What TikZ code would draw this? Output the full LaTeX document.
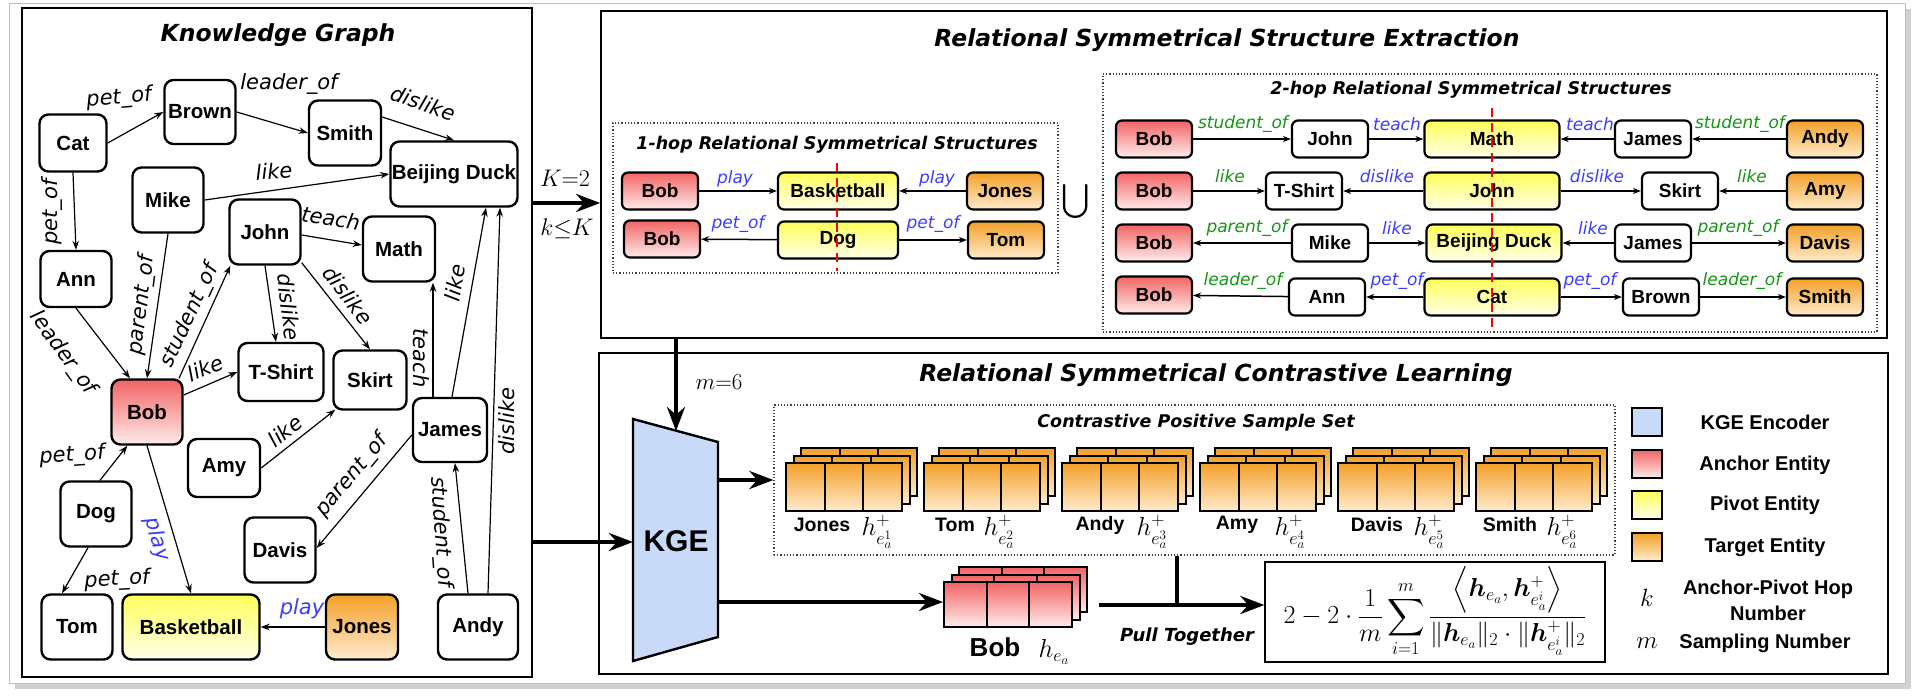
\RequirePackage{fix-cm}
\documentclass[tikz,border=0pt]{standalone}
\usepackage{amsmath,amssymb}
\usepackage{bm}
\usepackage{fontspec}
\usetikzlibrary{arrows.meta,calc}
\newfontfamily\nodefont{Liberation Sans}
\newfontfamily\lblfont{DejaVu Sans}
\definecolor{ancTop}{RGB}{242,100,100}
\definecolor{ancBot}{RGB}{255,235,235}
\definecolor{pivTop}{RGB}{255,255,90}
\definecolor{pivBot}{RGB}{255,255,235}
\definecolor{tgtTop}{RGB}{243,160,40}
\definecolor{tgtBot}{RGB}{255,235,205}
\definecolor{kgeBlue}{RGB}{201,218,248}
\definecolor{relBlue}{RGB}{60,60,255}
\definecolor{relGreen}{RGB}{20,150,20}
\newcommand{\cstack}[6]{%
  \foreach \o in {15,7.5,0}{%
    \draw[line width=2pt, top color=#3, bottom color=#4] (#1+\o, #2-\o) rectangle ++(3*#5, #6);
    \draw[line width=2pt] (#1+\o+#5, #2-\o) -- ++(0,#6) (#1+\o+2*#5, #2-\o) -- ++(0,#6);
  }}
\begin{document}
\begin{tikzpicture}[x=1pt,y=-1pt,
  ent/.style={draw, line width=2.4pt, rounded corners=9pt, inner sep=0pt,
    font=\nodefont\bfseries\fontsize{20.5}{24}\selectfont, minimum width=71pt, minimum height=65pt},
  sent/.style={draw, line width=2.2pt, rounded corners=6pt, inner sep=0pt,
    font=\nodefont\bfseries\fontsize{19}{22}\selectfont, minimum width=76pt, minimum height=37pt},
  anc/.style={top color=ancTop, bottom color=ancBot},
  piv/.style={top color=pivTop, bottom color=pivBot},
  tgt/.style={top color=tgtTop, bottom color=tgtBot},
  panel/.style={draw, line width=1.6pt, inner sep=0pt},
  dotbox/.style={draw=black!75, dotted, line width=1.2pt, inner sep=0pt},
  ttl/.style={font=\lblfont\bfseries\itshape\fontsize{23.5}{28}\selectfont, inner sep=0pt},
  sttl/.style={font=\lblfont\bfseries\itshape\fontsize{17.5}{21}\selectfont, inner sep=0pt},
  lbl/.style={font=\lblfont\itshape\fontsize{21}{24}\selectfont, inner sep=0pt},
  slbl/.style={font=\lblfont\itshape\fontsize{17}{20}\selectfont, inner sep=0pt},
  kgarr/.style={line width=1.2pt, -{Stealth[length=9pt,width=6.5pt]}},
  sarr/.style={line width=1.5pt, -{Stealth[length=8pt,width=6pt]}},
  bigarr/.style={line width=4pt, -{Stealth[length=24pt,width=18pt]}},
  legsq/.style={draw, line width=2.4pt, minimum width=30pt, minimum height=28pt, inner sep=0pt},
  legtxt/.style={font=\nodefont\bfseries\fontsize{20}{26}\selectfont, inner sep=0pt, align=center},
  stxt/.style={font=\nodefont\bfseries\fontsize{19.5}{22}\selectfont, inner sep=0pt},
  mth/.style={font=\fontsize{26}{30}\selectfont, inner sep=0pt}
]
\useasboundingbox (0,0) rectangle (1923,697);
% outer frame with shadow
\fill[black!18] (15,9) rectangle (1911,689);
\draw[black!25, line width=0.8pt, fill=white] (9,3) rectangle (1905,683);

% ================= Knowledge Graph panel =================
\node[panel, minimum width=510pt, minimum height=669pt] (kg) at (277,342.5) {};
\node[ttl] (kgt) at (278,35) {Knowledge Graph};

\node[ent, minimum width=67pt, minimum height=57pt] (cat) at (73,143) {Cat};
\node[ent, minimum height=64pt] (brown) at (200,112) {Brown};
\node[ent, minimum width=72pt] (smith) at (345,133) {Smith};
\node[ent, minimum width=127pt] (bd) at (454,174) {Beijing Duck};
\node[ent] (mike) at (168,200) {Mike};
\node[ent] (john) at (265,232) {John};
\node[ent, minimum width=72pt] (math) at (399,249) {Math};
\node[ent, minimum height=56pt] (ann) at (76,279) {Ann};
\node[ent, minimum width=85pt, minimum height=58pt] (tshirt) at (281,372) {T-Shirt};
\node[ent, minimum width=73pt, minimum height=59pt] (skirt) at (370,380) {Skirt};
\node[ent, anc] (bob) at (147,412) {Bob};
\node[ent, minimum width=72pt, minimum height=58pt] (amy) at (224,468) {Amy};
\node[ent, minimum width=74pt, minimum height=64pt] (james) at (450,430) {James};
\node[ent] (dog) at (96,514) {Dog};
\node[ent] (davis) at (280,550) {Davis};
\node[ent] (tom) at (77,627) {Tom};
\node[ent, piv, minimum width=137pt] (bask) at (191,627) {Basketball};
\node[ent, tgt, minimum width=72pt] (jones) at (362,627) {Jones};
\node[ent, minimum width=80pt] (andy) at (478,627) {Andy};

\draw[kgarr] (cat.east) -- (brown.west);
\node[lbl, rotate=5] (l1) at (119,98) {pet\_of};
\draw[kgarr] (brown.east) -- (smith.west);
\node[lbl] (l2) at (289,84) {leader\_of};
\draw[kgarr] ($(smith.east)+(0,-16)$) -- (bd.north);
\node[lbl, rotate=-19] (l3) at (423,103) {dislike};
\draw[kgarr] (mike.east) -- (bd.west);
\node[lbl, rotate=4] (l4) at (274,171) {like};
\draw[kgarr] (cat.south) -- (ann.north);
\node[lbl, rotate=90] (l5) at (52,212) {pet\_of};
\draw[kgarr] (ann.south) -- ($(bob.north)+(-17,0)$);
\node[lbl, rotate=-54] (l6) at (63,353) {leader\_of};
\draw[kgarr] (mike.south) -- (bob.north);
\node[lbl, rotate=83] (l7) at (142,305) {parent\_of};
\draw[kgarr] ($(bob.north)+(32,0)$) -- ($(john.south west)+(2,0)$);
\node[lbl, rotate=65] (l8) at (190,316) {student\_of};
\draw[kgarr] ($(bob.east)+(0,-17)$) -- (tshirt.west);
\node[lbl, rotate=22] (l9) at (205,368) {like};
\draw[kgarr] ($(john.east)+(0,3)$) -- ($(math.west)+(0,-4)$);
\node[lbl, rotate=-9] (l10) at (331,218) {teach};
\draw[kgarr] (john.south) -- ($(tshirt.north)+(-5,0)$);
\node[lbl, rotate=-83] (l11) at (289,307) {dislike};
\draw[kgarr] ($(john.south east)+(0,-3)$) -- (skirt.north);
\node[lbl, rotate=-53] (l12) at (348,295) {dislike};
\draw[kgarr] ($(james.north)+(-17,0)$) -- ($(math.south)+(34,0)$);
\node[lbl, rotate=-90] (l13) at (421,358) {teach};
\draw[kgarr] ($(james.north)+(2,0)$) -- ($(bd.south)+(32,0)$);
\node[lbl, rotate=80] (l14) at (455,283) {like};
\draw[kgarr] ($(andy.north)+(10,0)$) -- ($(bd.south)+(46,0)$);
\node[lbl, rotate=90] (l15) at (507,421) {dislike};
\draw[kgarr] ($(andy.north)+(-10,0)$) -- ($(james.south)+(5,0)$);
\node[lbl, rotate=-86] (l16) at (441,532) {student\_of};
\draw[kgarr] (amy.east) -- ($(skirt.south west)+(3,-1)$);
\node[lbl, rotate=39] (l17) at (285,431) {like};
\draw[kgarr] ($(james.west)+(0,5)$) -- ($(davis.east)+(0,-2)$);
\node[lbl, rotate=50] (l18) at (352,476) {parent\_of};
\draw[kgarr] ($(dog.north)+(4,0)$) -- ($(bob.south west)+(17,0)$);
\node[lbl, rotate=4] (l19) at (72,456) {pet\_of};
\draw[kgarr] ($(dog.south)+(-8,0)$) -- ($(tom.north)+(-15,0)$);
\node[lbl, rotate=3] (l20) at (117,580) {pet\_of};
\draw[kgarr] (bob.south) -- (bask.north);
\node[lbl, relBlue, rotate=-74] (l21) at (157,539) {play};
\draw[kgarr] (jones.west) -- (bask.east);
\node[lbl, relBlue] (l22) at (302,609) {play};

% ================= Extraction panel =================
\node[panel, minimum width=1286pt, minimum height=327pt] (ext) at (1244,174.5) {};
\node[ttl] (extt) at (1227,40) {Relational Symmetrical Structure Extraction};

% 1-hop
\node[dotbox, minimum width=445pt, minimum height=150pt] (hop1) at (835.5,198) {};
\node[sttl] (hop1t) at (837,145) {1-hop Relational Symmetrical Structures};
\node[sent, anc] (a1) at (660,191) {Bob};
\node[sent, piv, minimum width=120pt] (p1) at (838,191) {Basketball};
\node[sent, tgt] (t1) at (1005,191) {Jones};
\node[sent, anc] (a2) at (662,239) {Bob};
\node[sent, piv, minimum width=120pt] (p2) at (838,240) {Dog};
\node[sent, tgt] (t2) at (1006,240) {Tom};
\draw[sarr] (a1) -- (p1);
\draw[sarr] (t1) -- (p1);
\draw[sarr] (p2) -- (a2);
\draw[sarr] (p2) -- (t2);
\node[slbl, relBlue] (o1) at (735,179) {play};
\node[slbl, relBlue] (o2) at (937,179) {play};
\node[slbl, relBlue] (o3) at (738,224) {pet\_of};
\node[slbl, relBlue] (o4) at (933,224) {pet\_of};
\draw[red, line width=2.6pt, dash pattern=on 9pt off 6pt] (837,163) -- (837,271);

\node[font=\fontsize{34}{34}\selectfont, inner sep=0pt] (uni) at (1076,201) {$\textstyle\bigcup$};

% 2-hop
\node[dotbox, minimum width=774pt, minimum height=258pt] (hop2) at (1490,203) {};
\node[sttl] (hop2t) at (1471,90) {2-hop Relational Symmetrical Structures};

% row 1
\node[sent, anc] (r1a) at (1154,139) {Bob};
\node[sent] (r1b) at (1330,139) {John};
\node[sent, piv, minimum width=135pt] (r1c) at (1492,139) {Math};
\node[sent] (r1d) at (1653,139) {James};
\node[sent, tgt] (r1e) at (1825,139) {Andy};
\draw[sarr] (r1a) -- (r1b);
\draw[sarr] (r1b) -- (r1c);
\draw[sarr] (r1d) -- (r1c);
\draw[sarr] (r1e) -- (r1d);
\node[slbl, relGreen] (q1) at (1243,124) {student\_of};
\node[slbl, relBlue] (q2) at (1397,124) {teach};
\node[slbl, relBlue] (q3) at (1590,124) {teach};
\node[slbl, relGreen] (q4) at (1740,124) {student\_of};
% row 2
\node[sent, anc] (r2a) at (1154,191) {Bob};
\node[sent] (r2b) at (1304,191) {T-Shirt};
\node[sent, piv, minimum width=135pt] (r2c) at (1492,191) {John};
\node[sent] (r2d) at (1680,191) {Skirt};
\node[sent, tgt] (r2e) at (1825,191) {Amy};
\draw[sarr] (r2a) -- (r2b);
\draw[sarr] (r2c) -- (r2b);
\draw[sarr] (r2c) -- (r2d);
\draw[sarr] (r2e) -- (r2d);
\node[slbl, relGreen] (q5) at (1230,176) {like};
\node[slbl, relBlue] (q6) at (1387,176) {dislike};
\node[slbl, relBlue] (q7) at (1597,176) {dislike};
\node[slbl, relGreen] (q8) at (1752,176) {like};
% row 3
\node[sent, anc] (r3a) at (1154,243) {Bob};
\node[sent] (r3b) at (1330,243) {Mike};
\node[sent, piv, minimum width=135pt] (r3c) at (1494,243) {Beijing Duck};
\node[sent] (r3d) at (1653,243) {James};
\node[sent, tgt] (r3e) at (1825,243) {Davis};
\draw[sarr] (r3b) -- (r3a);
\draw[sarr] (r3b) -- (r3c);
\draw[sarr] (r3d) -- (r3c);
\draw[sarr] (r3d) -- (r3e);
\node[slbl, relGreen] (q9) at (1247,228) {parent\_of};
\node[slbl, relBlue] (q10) at (1397,228) {like};
\node[slbl, relBlue] (q11) at (1593,228) {like};
\node[slbl, relGreen] (q12) at (1738,228) {parent\_of};
% row 4
\node[sent, anc] (r4a) at (1154,295) {Bob};
\node[sent] (r4b) at (1327,297) {Ann};
\node[sent, piv, minimum width=135pt] (r4c) at (1492,297) {Cat};
\node[sent] (r4d) at (1661,297) {Brown};
\node[sent, tgt] (r4e) at (1825,297) {Smith};
\draw[sarr] (r4b) -- (r4a);
\draw[sarr] (r4c) -- (r4b);
\draw[sarr] (r4c) -- (r4d);
\draw[sarr] (r4d) -- (r4e);
\node[slbl, relGreen] (q13) at (1243,281) {leader\_of};
\node[slbl, relBlue] (q14) at (1397,281) {pet\_of};
\node[slbl, relBlue] (q15) at (1590,281) {pet\_of};
\node[slbl, relGreen] (q16) at (1742,281) {leader\_of};
\draw[red, line width=2.6pt, dash pattern=on 9pt off 6pt] (1492,108) -- (1492,330);

% ================= Contrastive panel =================
\node[panel, minimum width=1289pt, minimum height=321pt] (cl) at (1243.5,513.5) {};
\node[ttl] (clt) at (1216,375) {Relational Symmetrical Contrastive Learning};

% KGE encoder
\draw[line width=2.4pt, fill=kgeBlue] (633,419) -- (718,442) -- (718,637) -- (633,661) -- cycle;
\node[font=\nodefont\bfseries\fontsize{30}{36}\selectfont, inner sep=0pt] (kge) at (676,541) {KGE};
\coordinate (kgeTop) at (676,431);
\coordinate (kgeIn) at (633,542);
\coordinate (kgeOutA) at (718,480);
\coordinate (kgeOutB) at (718,602);

% sample set
\node[dotbox, minimum width=841pt, minimum height=150pt] (pset) at (1194.5,480) {};
\node[sttl] (psett) at (1196,423) {Contrastive Positive Sample Set};
\cstack{786}{463}{tgtTop}{tgtBot}{38.7}{48}
\cstack{924}{463}{tgtTop}{tgtBot}{38.7}{48}
\cstack{1062}{463}{tgtTop}{tgtBot}{38.7}{48}
\cstack{1200}{463}{tgtTop}{tgtBot}{38.7}{48}
\cstack{1338}{463}{tgtTop}{tgtBot}{38.7}{48}
\cstack{1476}{463}{tgtTop}{tgtBot}{38.7}{48}
\node[stxt] (n1) at (822,525) {Jones};
\node[mth] (h1) at (877,532) {$h^{+}_{e_a^{1}}$};
\node[stxt] (n2) at (955,525) {Tom};
\node[mth] (h2) at (999,532) {$h^{+}_{e_a^{2}}$};
\node[stxt] (n3) at (1100,525) {Andy};
\node[mth] (h3) at (1152,532) {$h^{+}_{e_a^{3}}$};
\node[stxt] (n4) at (1237,525) {Amy};
\node[mth] (h4) at (1290,532) {$h^{+}_{e_a^{4}}$};
\node[stxt] (n5) at (1377,525) {Davis};
\node[mth] (h5) at (1429,532) {$h^{+}_{e_a^{5}}$};
\node[stxt] (n6) at (1510,525) {Smith};
\node[mth] (h6) at (1562,532) {$h^{+}_{e_a^{6}}$};

% anchor stack
\cstack{944}{582}{ancTop}{ancBot}{42.7}{45}
\coordinate (bobIn) at (943,602);
\coordinate (bobOut) at (1099,605);
\node[font=\nodefont\bfseries\fontsize{26}{30}\selectfont, inner sep=0pt] (bobn) at (995,647) {Bob};
\node[mth] (bobh) at (1054,652) {$h_{e_a}$};

% formula
\node[draw, line width=1.2pt, minimum width=340pt, minimum height=100pt, inner sep=0pt] (formula) at (1435,612)
  {\fontsize{26}{30}\selectfont$\displaystyle 2-2\cdot\frac{1}{m}\sum_{i=1}^{m}\frac{\left\langle \bm{h}_{e_a},\bm{h}^{+}_{e_a^{i}}\right\rangle}{\|\bm{h}_{e_a}\|_2\cdot\|\bm{h}^{+}_{e_a^{i}}\|_2}$};
\draw[bigarr] (bobOut) -- (formula.west |- bobOut);
\draw[line width=4pt] (pset.south -| 1177,0) -- (1177,605);
\node[font=\lblfont\bfseries\itshape\fontsize{18}{21}\selectfont, inner sep=0pt] (pull) at (1187,637) {Pull Together};

% legend
\node[legsq, fill=kgeBlue] (lg1) at (1647,422) {};
\node[legsq, anc] (lg2) at (1647,464) {};
\node[legsq, piv] (lg3) at (1647,505) {};
\node[legsq, tgt] (lg4) at (1647,547) {};
\node[legtxt] (lt1) at (1765,422) {KGE Encoder};
\node[legtxt] (lt2) at (1765,465) {Anchor Entity};
\node[legtxt] (lt3) at (1765,505) {Pivot Entity};
\node[legtxt] (lt4) at (1765,547) {Target Entity};
\node[legtxt] (lt5) at (1768,600) {Anchor-Pivot Hop\\Number};
\node[legtxt] (lt6) at (1765,643) {Sampling Number};
\node[mth, font=\fontsize{25}{28}\selectfont] (lk) at (1647,598) {$k$};
\node[mth, font=\fontsize{25}{28}\selectfont] (lm) at (1647,643) {$m$};

% ================= connectors between panels =================
\coordinate (kIn) at (601,203);
\draw[bigarr] (kg.east |- kIn) -- (ext.west |- kIn);
\node[mth, font=\fontsize{24}{28}\selectfont] (kk1) at (565,178) {$K{=}2$};
\node[mth, font=\fontsize{24}{28}\selectfont] (kk2) at (567,229) {$k{\leq}K$};
\draw[bigarr] (ext.south -| kgeTop) -- (kgeTop);
\node[mth, font=\fontsize{23}{28}\selectfont] (mm) at (719,382) {$m{=}6$};
\draw[bigarr] (kg.east |- kgeIn) -- (kgeIn);
\draw[bigarr] (kgeOutA) -- (pset.west |- kgeOutA);
\draw[bigarr] (kgeOutB) -- (bobIn);
\end{tikzpicture}
\end{document}
